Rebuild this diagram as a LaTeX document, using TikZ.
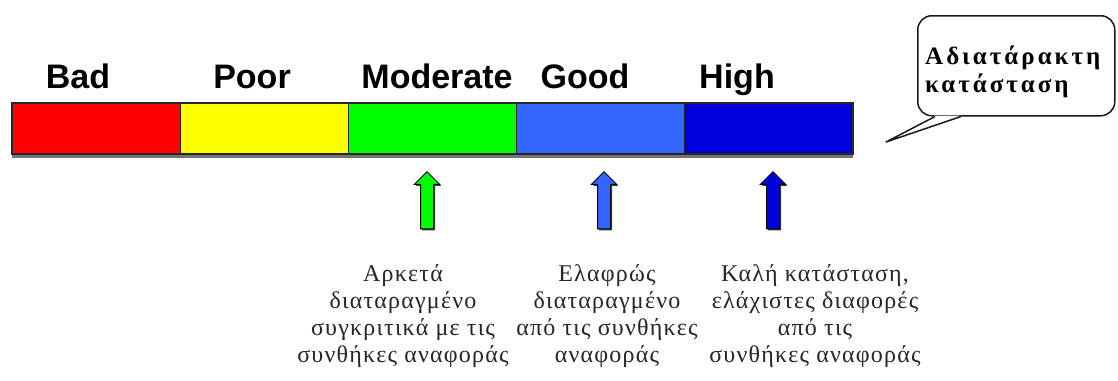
\documentclass[tikz,border=0pt]{standalone}
\usepackage{fontspec}
\setmainfont{Liberation Serif}
\newfontfamily\classfont{Liberation Sans}
\newfontfamily\grkfont[LetterSpace=5]{Liberation Serif}
\newfontfamily\balloonfont[LetterSpace=12]{Liberation Serif}
\usepackage{tikz}
\usetikzlibrary{positioning,shapes.arrows,shadows}
\definecolor{badred}{HTML}{FF0000}
\definecolor{pooryellow}{HTML}{FFFF00}
\definecolor{modgreen}{HTML}{00FF00}
\definecolor{goodblue}{HTML}{3366FF}
\definecolor{highblue}{HTML}{0000DD}

\begin{document}
\begin{tikzpicture}[x=1pt,y=-1pt,
    seg/.style={draw=black!85,line width=1.2pt,minimum width=168.2pt,minimum height=51pt,inner sep=0pt,outer sep=0pt},
    cls/.style={font=\classfont\bfseries\fontsize{34}{40}\selectfont,inner sep=0pt,anchor=base},
    uparr/.style={single arrow,shape border rotate=90,draw=black,line width=1pt,minimum height=57pt,
      single arrow head extend=6pt,single arrow head indent=0pt,inner xsep=6pt,inner ysep=0pt,
      copy shadow={shadow xshift=1.5pt,shadow yshift=-1.5pt,fill=black!75,draw=none}},
    note/.style={font=\grkfont\fontsize{24}{27}\selectfont,align=center,text=black!85,inner sep=0pt,anchor=north},
    balloon/.style={draw=black!90,line width=1.5pt,rounded corners=14pt,minimum width=197pt,minimum height=100pt,anchor=north west}
    ]
    \useasboundingbox (0,0) rectangle (1118,380);

    % the five status classes
    \node[seg,fill=badred,anchor=north west] (bad) at (12,103) {};
    \node[seg,fill=pooryellow,right=0pt of bad] (poor) {};
    \node[seg,fill=modgreen,right=0pt of poor] (moderate) {};
    \node[seg,fill=goodblue,right=0pt of moderate] (good) {};
    \node[seg,fill=highblue,right=0pt of good] (high) {};
    \fill[black!55] ([yshift=-0.6pt]bad.south west) rectangle ([yshift=-3.5pt]high.south east);

    \node[cls] (badlbl) at (78,88) {Bad};
    \node[cls] (poorlbl) at (252,88) {Poor};
    \node[cls] (modlbl) at (437,88) {Moderate};
    \node[cls] (goodlbl) at (585,88) {Good};
    \node[cls] (highlbl) at (737,88) {High};

    % arrows and their notes
    \node[uparr,fill=modgreen] (modarr) at (427,203.5) {};
    \node[uparr,fill=goodblue] (goodarr) at (604,203.5) {};
    \node[uparr,fill=highblue] (higharr) at (773,203.5) {};

    \node[note] (modnote) at (403,264) {Αρκετά\\διαταραγμένο\\συγκριτικά με τις\\συνθήκες αναφοράς};
    \node[note] (goodnote) at (607,264) {Ελαφρώς\\διαταραγμένο\\από τις συνθήκες\\αναφοράς};
    \node[note] (highnote) at (815,264) {Καλή κατάσταση,\\ελάχιστες διαφορές\\από τις\\συνθήκες αναφοράς};

    % speech balloon
    \node[balloon] (balloon) at (917,15) {};
    \coordinate (tip) at (886,142);
    \fill[white] ([xshift=18pt,yshift=1pt]balloon.south west) -- (tip) -- ([xshift=44pt,yshift=1pt]balloon.south west) -- cycle;
    \draw[black!90,line width=1.5pt,line join=round] ([xshift=18pt]balloon.south west) -- (tip) -- ([xshift=44pt]balloon.south west);
    \node[font=\balloonfont\bfseries\fontsize{25}{28}\selectfont,align=left,inner sep=0pt,anchor=north west] (undist) at (925,46) {Αδιατάρακτη\\κατάσταση};
\end{tikzpicture}
\end{document}
